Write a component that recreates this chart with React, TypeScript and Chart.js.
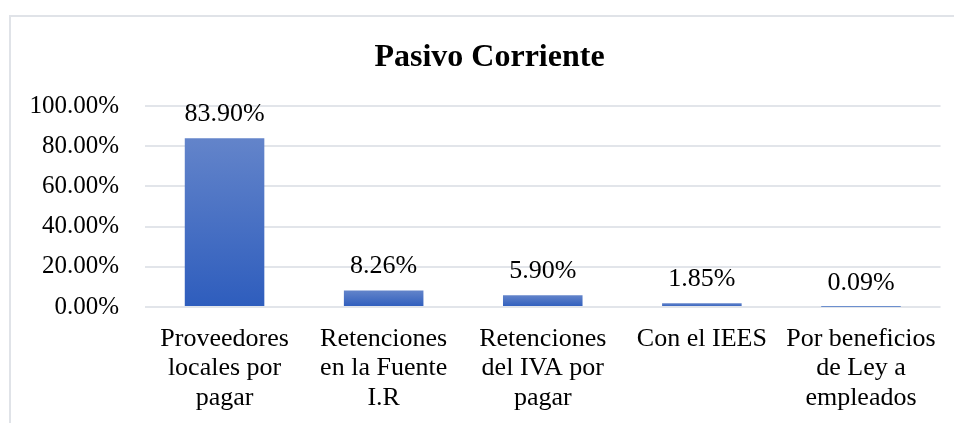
import React, { useEffect, useRef } from "react";
import { Chart, registerables } from "chart.js";

Chart.register(...registerables);

const TITLE = "Pasivo Corriente";
const categories: string[][] = [
  ["Proveedores", "locales por", "pagar"],
  ["Retenciones", "en la Fuente", "I.R"],
  ["Retenciones", "del IVA por", "pagar"],
  ["Con el IEES"],
  ["Por beneficios", "de Ley a", "empleados"],
];
const values: number[] = [83.9, 8.26, 5.9, 1.85, 0.09];
const yTicks: number[] = [0, 20, 40, 60, 80, 100];

const FONT = "'Liberation Serif', 'Times New Roman', serif";

export default function App() {
  const ref = useRef<HTMLCanvasElement | null>(null);

  useEffect(() => {
    document.body.style.margin = "0";
    const canvas = ref.current;
    if (!canvas) return;

    const framePlugin = {
      id: "frame",
      beforeDraw(chart: any) {
        const c = chart.ctx;
        c.save();
        c.fillStyle = "#ffffff";
        c.fillRect(0, 0, chart.width, chart.height);
        c.strokeStyle = "#e0e3e8";
        c.lineWidth = 2;
        c.strokeRect(10, 16, 960, 430);
        c.fillStyle = "#000000";
        c.font = `bold 32px ${FONT}`;
        c.textAlign = "center";
        c.textBaseline = "alphabetic";
        c.fillText(TITLE, 489.5, 66);
        c.restore();
      },
    };

    const labelPlugin = {
      id: "valueLabels",
      afterDatasetsDraw(chart: any) {
        const c = chart.ctx;
        const meta = chart.getDatasetMeta(0);
        c.save();
        c.fillStyle = "#000000";
        c.font = `26px ${FONT}`;
        c.textAlign = "center";
        c.textBaseline = "alphabetic";
        meta.data.forEach((el: any, i: number) => {
          c.fillText(values[i].toFixed(2) + "%", el.x, el.y - 17);
        });
        c.restore();
      },
    };

    const chart = new Chart(canvas, {
      type: "bar",
      data: {
        labels: categories,
        datasets: [
          {
            data: values,
            barPercentage: 0.5,
            categoryPercentage: 1,
            borderWidth: 0,
            backgroundColor: (ctx: any) => {
              const ch = ctx.chart;
              if (!ch.chartArea || ctx.type !== "data" || !ch.scales.y) return "#4472c4";
              const ys = ch.scales.y;
              const top = ys.getPixelForValue(values[ctx.dataIndex]);
              const bottom = ys.getPixelForValue(0);
              if (!isFinite(top) || !isFinite(bottom) || bottom - top < 0.5) return "#4472c4";
              const g = ch.ctx.createLinearGradient(0, top, 0, bottom);
              g.addColorStop(0, "#6384ca");
              g.addColorStop(1, "#2e5dbd");
              return g;
            },
          },
        ],
      },
      options: {
        responsive: false,
        animation: false,
        layout: { padding: { top: 106, right: 13, left: 0, bottom: 0 } },
        plugins: {
          legend: { display: false },
          title: { display: false },
          tooltip: { enabled: false },
        },
        scales: {
          x: {
            grid: { display: false, drawTicks: false },
            border: { display: false },
            ticks: {
              color: "#000000",
              font: { family: FONT, size: 26, lineHeight: 1.14 },
              padding: 17,
              maxRotation: 0,
              autoSkip: false,
            },
            afterFit: (s: any) => {
              s.height = 116;
            },
          },
          y: {
            min: 0,
            max: 100,
            afterBuildTicks: (s: any) => {
              s.ticks = yTicks.map((v) => ({ value: v }));
            },
            grid: { color: "#e2e5ea", lineWidth: 2, drawTicks: false },
            border: { display: false },
            ticks: {
              color: "#000000",
              font: { family: FONT, size: 25 },
              padding: 26,
              callback: (v: any) => Number(v).toFixed(2) + "%",
            },
            afterFit: (s: any) => {
              s.width = 145;
            },
          },
        },
      },
      plugins: [framePlugin, labelPlugin],
    });

    return () => chart.destroy();
  }, []);

  return (
    <div style={{ position: "absolute", left: 0, top: 0, width: 954, height: 423 }}>
      <canvas ref={ref} width={954} height={423} />
    </div>
  );
}
